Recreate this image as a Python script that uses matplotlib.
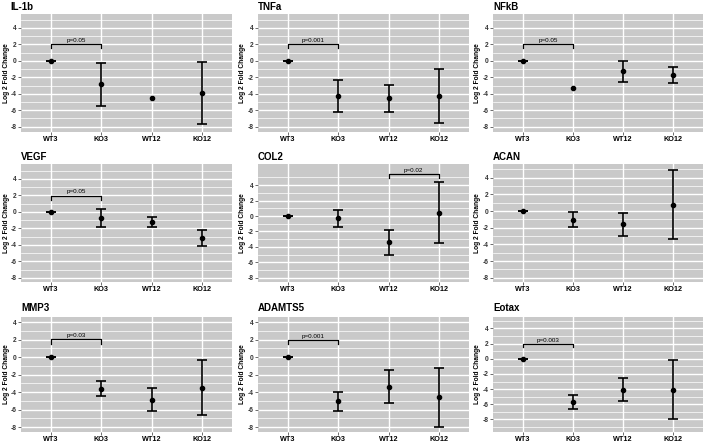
import numpy as np
import matplotlib
matplotlib.use("Agg")
import matplotlib.pyplot as plt

plt.rcParams['font.family'] = ['Liberation Sans', 'DejaVu Sans']
plt.rcParams['axes.unicode_minus'] = False

nan = np.nan
groups = ["WT3", "KO3", "WT12", "KO12"]
genes = ["IL-1b", "TNFa", "NFkB", "VEGF", "COL2", "ACAN", "MMP3", "ADAMTS5", "Eotax"]

# mean, lower and upper end of the error bar for each group
il1b_mean = [0, -2.86, -4.48, -3.87]
il1b_lo = [0, -5.48, nan, -7.66]
il1b_hi = [0, -0.24, nan, -0.08]

tnfa_mean = [0, -4.27, -4.55, -4.27]
tnfa_lo = [0, -6.16, -6.24, -7.61]
tnfa_hi = [0, -2.30, -2.94, -0.97]

nfkb_mean = [0, -3.26, -1.29, -1.69]
nfkb_lo = [0, nan, -2.58, -2.74]
nfkb_hi = [0, nan, -0.04, -0.77]

vegf_mean = [0, -0.73, -1.21, -3.11]
vegf_lo = [0, -1.86, -1.82, -4.08]
vegf_hi = [0, 0.36, -0.65, -2.22]

col2_mean = [0, -0.31, -3.40, 0.44]
col2_lo = [0, -1.48, -5.06, -3.49]
col2_hi = [0, 0.83, -1.75, 4.41]

acan_mean = [0, -1.01, -1.58, 0.77]
acan_lo = [0, -1.86, -2.96, -3.36]
acan_hi = [0, -0.16, -0.28, 4.94]

mmp3_mean = [0, -3.60, -4.88, -3.49]
mmp3_lo = [0, -4.50, -6.19, -6.64]
mmp3_hi = [0, -2.78, -3.56, -0.34]

adamts5_mean = [0, -5.03, -3.39, -4.58]
adamts5_lo = [0, -6.15, -5.22, -7.98]
adamts5_hi = [0, -3.99, -1.49, -1.23]

eotax_mean = [0, -5.65, -4.06, -4.10]
eotax_lo = [0, -6.60, -5.52, -7.98]
eotax_hi = [0, -4.79, -2.55, -0.22]

means = [il1b_mean, tnfa_mean, nfkb_mean, vegf_mean, col2_mean, acan_mean, mmp3_mean, adamts5_mean, eotax_mean]
lows = [il1b_lo, tnfa_lo, nfkb_lo, vegf_lo, col2_lo, acan_lo, mmp3_lo, adamts5_lo, eotax_lo]
highs = [il1b_hi, tnfa_hi, nfkb_hi, vegf_hi, col2_hi, acan_hi, mmp3_hi, adamts5_hi, eotax_hi]

# significance brackets: gene -> (group a, group b, height, label)
brackets = {
    "IL-1b": (0, 1, 2.05, "p=0.05"),
    "TNFa": (0, 1, 2.05, "p=0.001"),
    "NFkB": (0, 1, 2.05, "p=0.05"),
    "VEGF": (0, 1, 1.98, "p=0.05"),
    "COL2": (2, 3, 5.45, "p=0.02"),
    "MMP3": (0, 1, 2.06, "p=0.03"),
    "ADAMTS5": (0, 1, 1.98, "p=0.001"),
    "Eotax": (0, 1, 1.99, "p=0.003"),
}

ylims = [(-8.65, 5.7), (-8.65, 5.7), (-8.65, 5.7),
         (-8.5, 5.8), (-8.55, 6.75), (-8.5, 5.65),
         (-8.57, 4.6), (-8.55, 4.6), (-9.65, 5.5)]

W, H = 709, 445
fig = plt.figure(figsize=(W / 100, H / 100), dpi=100)
fig.patch.set_facecolor('white')

col_left = [21, 258, 493]
col_w = [211, 211, 210]
row_top = [14, 164, 317]
row_h = [118, 118, 115]
title_y = [6.5, 157, 308]
ylab_x = [6, 242, 478]

x = np.arange(1, 5)
for k, gene in enumerate(genes):
    r, c = divmod(k, 3)
    l, t, w, h = col_left[c], row_top[r], col_w[c], row_h[r]
    ax = fig.add_axes([l / W, 1 - (t + h) / H, w / W, h / H])
    ax.set_facecolor('#C9C9C9')
    for s in ax.spines.values():
        s.set_visible(False)
    ax.set_xlim(0.4, 4.6)
    lo_lim, hi_lim = ylims[k]
    ax.set_ylim(lo_lim, hi_lim)
    ax.set_yticks(np.arange(-8, 5, 2))
    minors = [v for v in range(-11, 8, 2) if lo_lim < v < hi_lim]
    ax.set_yticks(minors, minor=True)
    ax.set_xticks(x)
    ax.set_xticklabels(groups, fontsize=5.2, fontweight='bold', color='black')
    ax.tick_params(axis='both', which='major', length=2, width=0.5, color='#333333', pad=1.2)
    ax.tick_params(axis='y', labelsize=4.8, labelcolor='#333333')
    for lab in ax.get_yticklabels():
        lab.set_fontweight('bold')
    ax.tick_params(axis='y', which='minor', length=0)
    ax.grid(True, which='major', color='white', linewidth=1.0)
    ax.grid(True, which='minor', axis='y', color='white', linewidth=0.5)
    ax.set_axisbelow(True)

    m = np.array(means[k], dtype=float)
    lo = np.array(lows[k], dtype=float)
    hi = np.array(highs[k], dtype=float)
    ok = ~np.isnan(lo)
    ax.errorbar(x[ok], m[ok], yerr=[m[ok] - lo[ok], hi[ok] - m[ok]], fmt='none',
                ecolor='black', elinewidth=1.2, capsize=3.6, capthick=1.2, zorder=3)
    ax.plot(x, m, 'o', color='black', ms=3, zorder=4)

    if gene in brackets:
        a, b, yb, txt = brackets[gene]
        drop = 0.5
        ax.plot([x[a], x[a], x[b], x[b]], [yb - drop, yb, yb, yb - drop],
                color='black', linewidth=0.9, zorder=3)
        ax.text((x[a] + x[b]) / 2, yb + 0.15, txt, ha='center', va='bottom', fontsize=4.5)

    tx = 10 if gene == "IL-1b" else l
    fig.text(tx / W, 1 - title_y[r] / H, gene, fontsize=7, fontweight='bold',
             ha='left', va='center')
    fig.text(ylab_x[c] / W, 1 - (t + h / 2) / H, "Log 2 Fold Change", fontsize=4.8,
             fontweight='bold', rotation=90, ha='center', va='center')

fig.savefig("out.png", dpi=100)
